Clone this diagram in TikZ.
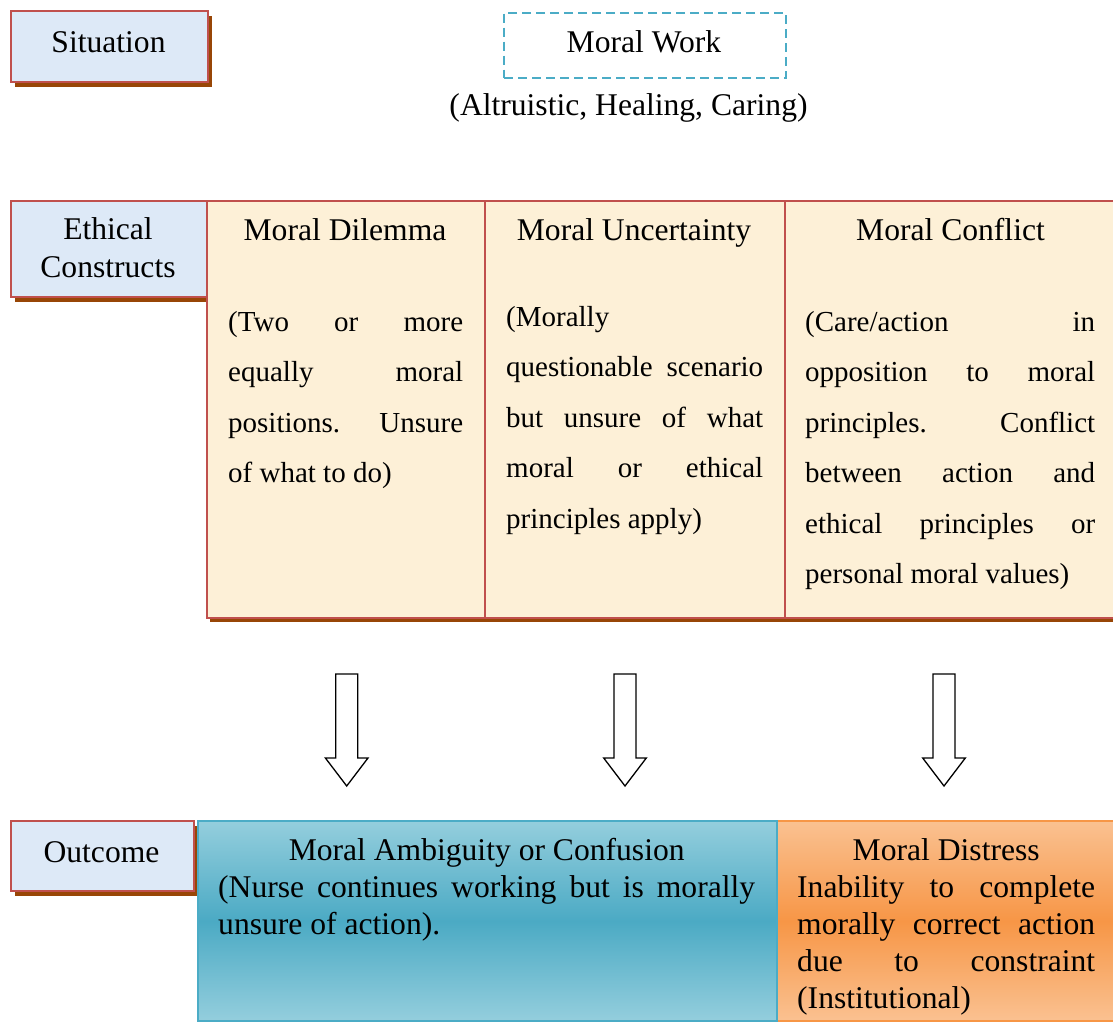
\documentclass[tikz,border=0pt]{standalone}
\usepackage{fontspec}
\setmainfont{Liberation Serif}
\usetikzlibrary{shadows}
\definecolor{bordred}{RGB}{192,80,77}
\definecolor{lblfill}{RGB}{221,233,247}
\definecolor{shadowc}{RGB}{152,70,6}
\definecolor{tabfill}{RGB}{253,240,215}
\definecolor{dashblue}{RGB}{75,172,198}
\definecolor{bluelight}{RGB}{148,206,221}
\definecolor{bluedark}{RGB}{75,170,196}
\definecolor{orlight}{RGB}{250,193,145}
\definecolor{ordark}{RGB}{247,150,70}
\newcommand\fbig{\fontsize{31.6pt}{37pt}\selectfont}
\newcommand\ftab{\fontsize{29pt}{50.5pt}\selectfont}
\hbadness=10000
\begin{document}
\begin{tikzpicture}[x=1pt,y=-1pt,
  lbl/.style={draw=bordred, line width=2.2pt, fill=lblfill, inner sep=0pt, anchor=north west,
    drop shadow={shadow xshift=3.5pt, shadow yshift=-5pt, fill=shadowc, opacity=1}},
  tablebg/.style={fill=tabfill, inner sep=0pt, anchor=north west,
    drop shadow={shadow xshift=3.5pt, shadow yshift=-5pt, fill=shadowc, opacity=1}},
  cell/.style={draw=bordred, line width=2.2pt, inner sep=0pt, anchor=north west},
  bigtext/.style={font=\fbig, inner sep=0pt, anchor=base},
  tabtext/.style={font=\ftab, align=justify, inner sep=0pt, anchor=base west},
  outtext/.style={font=\fbig, align=justify, inner sep=0pt, anchor=base west},
  arrowline/.style={draw=black, line width=1.3pt, fill=white, line join=miter},
  blockarr/.pic={\path[arrowline] (-11,0) -- (-11,84) -- (-21.3,84) -- (0,112) -- (21.3,84) -- (11,84) -- (11,0) -- cycle;}
]
\useasboundingbox (0,0) rectangle (1113,1021);
\fill[white] (0,0) rectangle (1113,1021);

% top row
\node[lbl, minimum width=197pt, minimum height=71pt] (sitbox) at (10,10) {};
\node[bigtext] (sit) at (108.5,52) {Situation};
\node[draw=dashblue, line width=2pt, dash pattern=on 9pt off 5pt, inner sep=0pt,
      minimum width=282pt, minimum height=65pt, anchor=north west] (mwbox) at (503,11.5) {};
\node[bigtext] (mw) at (644,52) {Moral Work};
\node[bigtext] (alt) at (628.5,115) {(Altruistic, Healing, Caring)};

% ethical constructs
\node[lbl, minimum width=196pt, minimum height=96pt] (ethbox) at (10,200) {};
\node[font=\fontsize{31.6pt}{38pt}\selectfont, text width=196pt, align=center, inner sep=0pt, anchor=base] (eth) at (108,239) {Ethical\\Constructs};

\node[tablebg, minimum width=912pt, minimum height=417pt] (tbl) at (206,200) {};
\node[cell, minimum width=277.5pt, minimum height=417pt] (c1) at (206,200) {};
\node[cell, minimum width=300pt, minimum height=417pt] (c2) at (483.5,200) {};
\node[cell, minimum width=334pt, minimum height=417pt] (c3) at (783.5,200) {};

\node[bigtext] (h1) at (345,240) {Moral Dilemma};
\node[bigtext] (h2) at (634,240) {Moral Uncertainty};
\node[bigtext] (h3) at (950.5,240) {Moral Conflict};

\node[tabtext, text width=235pt] (b1) at (228,331) {(Two or more\linebreak equally moral\linebreak positions. Unsure\linebreak of what to do)};
\node[tabtext, text width=257pt] (b2) at (506,326) {(Morally\linebreak questionable scenario\linebreak but unsure of what\linebreak moral or ethical\linebreak principles apply)};
\node[tabtext, text width=290pt] (b3) at (805,331) {(Care/action in\linebreak opposition to moral\linebreak principles. Conflict\linebreak between action and\linebreak ethical principles or\linebreak personal moral values)};

% arrows
\pic (arr1) at (346.7,674) {blockarr};
\pic (arr2) at (625,674) {blockarr};
\pic (arr3) at (944,674) {blockarr};

% outcome
\node[lbl, minimum width=183pt, minimum height=70pt] (outbox) at (10,820) {};
\node[bigtext] (out) at (101.5,862) {Outcome};
\node[draw=ordark, line width=2pt, top color=orlight, bottom color=orlight, middle color=ordark,
      inner sep=0pt, anchor=north west, minimum width=340pt, minimum height=200pt] (orbox) at (776,820) {};
\node[draw=dashblue, line width=2pt, top color=bluelight, bottom color=bluelight, middle color=bluedark,
      inner sep=0pt, anchor=north west, minimum width=579pt, minimum height=200pt] (blbox) at (197,820) {};
\node[outtext, text width=537pt] (bltext) at (218,860) {\hfil Moral Ambiguity or Confusion\hfil\break (Nurse continues working but is morally\linebreak unsure of action).};
\node[outtext, text width=298pt] (ortext) at (797,860) {\hfil Moral Distress\hfil\break Inability to complete\linebreak morally correct action\linebreak due to constraint\linebreak (Institutional)};
\end{tikzpicture}
\end{document}
